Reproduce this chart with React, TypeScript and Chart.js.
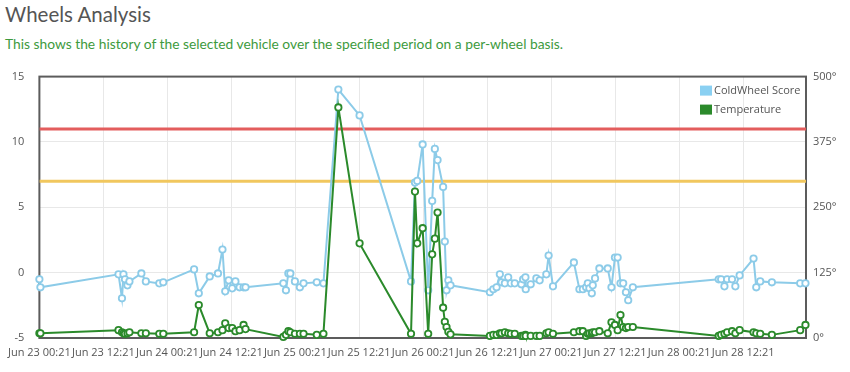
import React, { useEffect, useRef } from "react";
import { Chart, registerables } from "chart.js";

Chart.register(...registerables);

const TITLE = "Wheels Analysis";
const SUBTITLE =
  "This shows the history of the selected vehicle over the specified period on a per-wheel basis.";
const SERIES_NAMES = ["ColdWheel Score", "Temperature"];

// Hours elapsed since Jun 23 00:21
const timeHours = [
  0, 0.19, 14.84, 15.49, 15.77, 16.05, 16.52, 16.89, 19.13, 19.97, 22.49, 23.24,
  29.02, 29.9, 31.95, 33.5, 34.34, 34.86, 35.5, 36.17, 36.77, 37.55, 38.3, 38.67,
  45.76, 46.25, 46.7, 47.07, 47.93, 48.86, 49.55, 52.03, 53.28, 56.08, 60.06,
  69.71, 70.45, 70.88, 71.89, 72.93, 73.68, 74.18, 74.69, 75.73, 76.05, 76.37,
  76.71, 77.12, 84.51, 85.14, 85.76, 86.37, 86.69, 87.31, 87.94, 88.43, 89.17,
  90.42, 90.74, 91.17, 91.23, 92.16, 93.22, 93.84, 95.09, 95.52, 96.34, 100.26,
  101.3, 101.94, 102.55, 102.87, 103.17, 103.62, 103.8, 104.23, 105.04, 106.61,
  107.31, 107.96, 108.47, 109.0, 109.51, 110.02, 110.45, 111.32, 127.43, 127.88,
  128.5, 129.0, 129.93, 130.55, 131.35, 133.96, 134.47, 135.21, 137.4, 142.71,
  143.7,
];

const coldWheelScore = [
  -0.51, -1.12, -0.13, -1.96, -0.13, -0.51, -0.97, -0.67, -0.06, -0.67, -0.82,
  -0.74, 0.25, -1.58, -0.29, -0.06, 1.77, -1.43, -0.59, -1.2, -0.67, -1.12,
  -1.12, -1.12, -0.82, -1.35, -0.06, -0.06, -0.67, -1.12, -0.82, -0.74, -0.82,
  14.01, 12.03, -0.67, 6.89, 7.02, 9.81, -1.35, 5.49, 9.47, 8.61, 6.56, 2.38,
  -1.35, -0.59, -0.97, -1.5, -1.27, -1.12, -0.13, -0.74, -0.82, -0.36, -0.82,
  -0.82, -0.89, -0.51, -0.36, -1.27, -0.89, -0.44, -0.59, -0.13, 1.31, -1.05,
  0.78, -1.27, -1.27, -1.12, -0.82, -1.2, -1.58, -0.97, -0.44, 0.32, 0.32,
  -1.12, 1.16, 1.16, -0.82, -0.82, -1.5, -2.11, -1.12, -0.51, -0.51, -1.05,
  -0.51, -0.51, -1.05, -0.21, 1.08, -1.12, -0.67, -0.74, -0.82, -0.82,
];

const temperature = [
  9, 9, 15, 11, 9, 8, 9, 11, 9, 9, 8, 8, 11, 63, 9, 11, 15, 28, 19, 19, 13, 15,
  25, 17, 2, 6, 13, 11, 8, 8, 8, 6, 8, 441, 181, 8, 280, 181, 210, 8, 160, 190,
  240, 58, 31, 21, 12, 7, 4, 6, 6, 9, 9, 11, 9, 8, 8, 4, 4, 6, 4, 4, 4, 4, 9,
  11, 8, 11, 13, 13, 4, 8, 9, 9, 11, 11, 13, 9, 30, 25, 15, 44, 21, 19, 21, 21,
  4, 6, 8, 11, 13, 9, 15, 11, 9, 8, 6, 15, 25,
];

const xTickLabels = [
  "Jun 23 00:21", "Jun 23 12:21", "Jun 24 00:21", "Jun 24 12:21",
  "Jun 25 00:21", "Jun 25 12:21", "Jun 26 00:21", "Jun 26 12:21",
  "Jun 27 00:21", "Jun 27 12:21", "Jun 28 00:21", "Jun 28 12:21",
];
const xTickStepHours = 12;
const xMinHours = 0;
const xMaxHours = 143.8;

const scoreTicks = [-5, 0, 5, 10, 15];
const temperatureTicks = [0, 125, 250, 375, 500];

const redThreshold = 11;
const yellowThreshold = 7;

const BLUE = "#8ccbe8";
const BLUE_LEGEND = "#8ad0f2";
const GREEN = "#2b8a2b";
const RED = "#e35d5d";
const YELLOW = "#f1c75e";
const TEXT = "#555555";
const FONT = "'Open Sans', sans-serif";

const framePlugin = {
  id: "frame",
  beforeDatasetsDraw(chart: any) {
    const { ctx, chartArea: a } = chart;
    ctx.save();
    ctx.strokeStyle = "#5c5c5c";
    ctx.lineWidth = 2;
    ctx.strokeRect(a.left, a.top, a.right - a.left, a.bottom - a.top);
    ctx.restore();
  },
  afterDraw(chart: any) {
    const { ctx, chartArea: a } = chart;
    ctx.save();
    const colors = [BLUE_LEGEND, GREEN];
    ctx.font = `11px ${FONT}`;
    ctx.textBaseline = "middle";
    SERIES_NAMES.forEach((name, i) => {
      const cy = a.top + 14 + i * 19;
      const sx = a.right - 106;
      ctx.fillStyle = colors[i];
      ctx.fillRect(sx, cy - 5, 12, 10);
      ctx.fillStyle = TEXT;
      ctx.fillText(name, sx + 14, cy);
    });
    ctx.restore();
  },
};

export default function App() {
  const canvasRef = useRef<HTMLCanvasElement | null>(null);

  useEffect(() => {
    if (!canvasRef.current) return;
    const scorePoints = timeHours.map((x, i) => ({ x, y: coldWheelScore[i] }));
    const tempPoints = timeHours.map((x, i) => ({ x, y: temperature[i] }));
    const tickFont = { family: FONT, size: 11 };

    const chart = new Chart(canvasRef.current, {
      type: "line",
      data: {
        datasets: [
          {
            label: SERIES_NAMES[1],
            data: tempPoints,
            yAxisID: "y2",
            borderColor: GREEN,
            borderWidth: 2,
            pointRadius: 3.2,
            pointBorderWidth: 1.8,
            pointBackgroundColor: "#ffffff",
            pointBorderColor: GREEN,
            tension: 0,
            clip: false,
            order: 0,
          } as any,
          {
            label: SERIES_NAMES[0],
            data: scorePoints,
            yAxisID: "y",
            borderColor: BLUE,
            borderWidth: 2,
            pointRadius: 3.2,
            pointBorderWidth: 1.8,
            pointBackgroundColor: "#ffffff",
            pointBorderColor: BLUE,
            tension: 0,
            clip: false,
            order: 1,
          } as any,
          {
            label: "red",
            data: [
              { x: xMinHours, y: redThreshold },
              { x: xMaxHours, y: redThreshold },
            ],
            yAxisID: "y",
            borderColor: RED,
            borderWidth: 3,
            pointRadius: 0,
            order: 2,
          },
          {
            label: "yellow",
            data: [
              { x: xMinHours, y: yellowThreshold },
              { x: xMaxHours, y: yellowThreshold },
            ],
            yAxisID: "y",
            borderColor: YELLOW,
            borderWidth: 3,
            pointRadius: 0,
            order: 3,
          },
        ],
      },
      options: {
        animation: false,
        responsive: false,
        maintainAspectRatio: false,
        layout: { padding: { top: 0, left: 0, right: 0, bottom: 0 } },
        plugins: {
          legend: { display: false },
          tooltip: { enabled: false },
        },
        scales: {
          x: {
            type: "linear",
            min: xMinHours,
            max: xMaxHours,
            afterBuildTicks: (s: any) => {
              s.ticks = xTickLabels.map((_, i) => ({ value: i * xTickStepHours }));
            },
            afterFit: (s: any) => {
              s.height = 34;
            },
            ticks: {
              autoSkip: false,
              maxRotation: 0,
              padding: 8,
              color: TEXT,
              font: tickFont,
              callback: (_v: any, i: number) => xTickLabels[i],
            },
            grid: { color: "#e8e8e8", lineWidth: 1, drawTicks: false },
            border: { display: false },
          },
          y: {
            position: "left",
            min: scoreTicks[0],
            max: scoreTicks[scoreTicks.length - 1],
            afterBuildTicks: (s: any) => {
              s.ticks = scoreTicks.map((v) => ({ value: v }));
            },
            afterFit: (s: any) => {
              s.width = 35;
            },
            ticks: { padding: 15, color: TEXT, font: tickFont },
            grid: { color: "#e8e8e8", lineWidth: 1, drawTicks: false },
            border: { display: false },
          },
          y2: {
            position: "right",
            min: temperatureTicks[0],
            max: temperatureTicks[temperatureTicks.length - 1],
            afterBuildTicks: (s: any) => {
              s.ticks = temperatureTicks.map((v) => ({ value: v }));
            },
            afterFit: (s: any) => {
              s.width = 44;
            },
            ticks: {
              padding: 7,
              color: TEXT,
              font: tickFont,
              callback: (v: any) => `${v}°`,
            },
            grid: { drawOnChartArea: false, drawTicks: false },
            border: { display: false },
          },
        },
      } as any,
      plugins: [framePlugin],
    });
    return () => chart.destroy();
  }, []);

  return (
    <div
      style={{
        position: "absolute",
        left: 0,
        top: 0,
        width: 850,
        height: 372,
        background: "#ffffff",
        overflow: "hidden",
      }}
    >
      <div
        style={{
          position: "absolute",
          left: 5,
          top: 2,
          fontFamily: "Lato, 'Open Sans', sans-serif",
          fontSize: 20.5,
          lineHeight: "24px",
          color: "#555555",
          whiteSpace: "nowrap",
        }}
      >
        {TITLE}
      </div>
      <div
        style={{
          position: "absolute",
          left: 5,
          top: 35,
          fontFamily: "Lato, 'Open Sans', sans-serif",
          fontSize: 13.8,
          lineHeight: "18px",
          color: "#3d9a3d",
          whiteSpace: "nowrap",
        }}
      >
        {SUBTITLE}
      </div>
      <canvas
        ref={canvasRef}
        width={850}
        height={317}
        style={{ position: "absolute", left: 0, top: 55, width: 850, height: 317 }}
      />
    </div>
  );
}
